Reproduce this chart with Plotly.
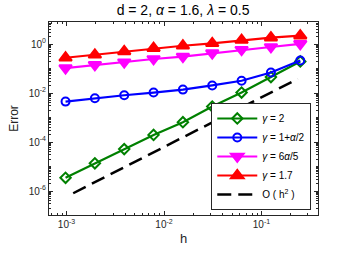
import plotly.graph_objects as go

# Data
h = [2**-10, 2**-9, 2**-8, 2**-7, 2**-6, 2**-5, 2**-4, 2**-3, 2**-2]
err_g2 = [10**-5.46, 10**-4.87, 10**-4.29, 10**-3.71, 10**-3.19, 10**-2.55, 10**-1.98, 10**-1.35, 10**-0.71]
err_g1a2 = [10**-2.35, 10**-2.21, 10**-2.09, 10**-1.98, 10**-1.86, 10**-1.69, 10**-1.50, 10**-1.16, 10**-0.67]
err_g6a5 = [10**-0.98, 10**-0.85, 10**-0.74, 10**-0.61, 10**-0.51, 10**-0.37, 10**-0.23, 10**-0.12, 10**0.01]
err_g17 = [10**-0.56, 10**-0.44, 10**-0.30, 10**-0.17, 10**-0.07, 10**0.03, 10**0.16, 10**0.26, 10**0.34]
ref_h = [1.17e-3, 0.236]
ref_err = [8.1e-7, 0.038]

names = ["<i>γ</i> = 2", "<i>γ</i> = 1+<i>α</i>/2", "<i>γ</i> = 6<i>α</i>/5", "<i>γ</i> = 1.7", "O ( h<sup>2</sup> )"]

x_tickvals = [1e-3, 1e-2, 1e-1]
x_ticktext = ["10<sup>-3</sup>", "10<sup>-2</sup>", "10<sup>-1</sup>"]
y_tickvals = [1e-6, 1e-4, 1e-2, 1e0]
y_ticktext = ["10<sup>-6</sup>", "10<sup>-4</sup>", "10<sup>-2</sup>", "10<sup>0</sup>"]

FONT = "Liberation Sans, Arial, sans-serif"
AX = "#262626"

fig = go.Figure()
series = [
    (err_g2, names[0], "#008000", "diamond-open", 8),
    (err_g1a2, names[1], "#0000FF", "circle-open", 8),
    (err_g6a5, names[2], "#FF00FF", "triangle-down", 11),
    (err_g17, names[3], "#FF0000", "triangle-up", 11),
]
for ys, nm, col, sym, sz in series:
    fig.add_trace(go.Scatter(
        x=h, y=ys, name=nm, mode="lines+markers",
        line=dict(color=col, width=2.2),
        marker=dict(symbol=sym, size=sz, color=col, line=dict(color=col, width=2)),
    ))
fig.add_trace(go.Scatter(
    x=ref_h, y=ref_err, name=names[4], mode="lines",
    line=dict(color="black", width=2.5, dash="14px,7px"),
))

axis_common = dict(
    type="log", showline=True, linecolor=AX, linewidth=1, mirror="allticks",
    ticks="inside", ticklen=4, tickcolor=AX, showgrid=False, zeroline=False,
    automargin=False, tickmode="array",
    tickfont=dict(family=FONT, size=10, color=AX),
    minor=dict(ticks="inside", ticklen=2, tickcolor=AX, dtick="D1", showgrid=False),
)

fig.update_layout(
    width=352, height=254,
    margin=dict(l=49, r=34, t=22, b=39),
    paper_bgcolor="white", plot_bgcolor="white",
    title=dict(text="d = 2, <i>α</i> = 1.6, <i>λ</i> = 0.5", x=0.52, xanchor="center",
               y=0.96, yanchor="middle", font=dict(family=FONT, size=14, color="black")),
    xaxis=dict(axis_common, range=[-3.18, -0.42], tickvals=x_tickvals, ticktext=x_ticktext,
               title=dict(text="h", font=dict(family=FONT, size=13, color=AX), standoff=4)),
    yaxis=dict(axis_common, range=[-6.98, 0.9], tickvals=y_tickvals, ticktext=y_ticktext,
               title=dict(text="Error", font=dict(family=FONT, size=12, color=AX), standoff=7)),
    legend=dict(x=0.975, y=0.026, xanchor="right", yanchor="bottom",
                bgcolor="white", bordercolor=AX, borderwidth=1,
                font=dict(family=FONT, size=10, color="black"),
                tracegroupgap=0, itemwidth=40),
    showlegend=True,
)

fig.write_html("out.html", config={"displayModeBar": False},
               post_script="document.body.style.margin='0px';")
